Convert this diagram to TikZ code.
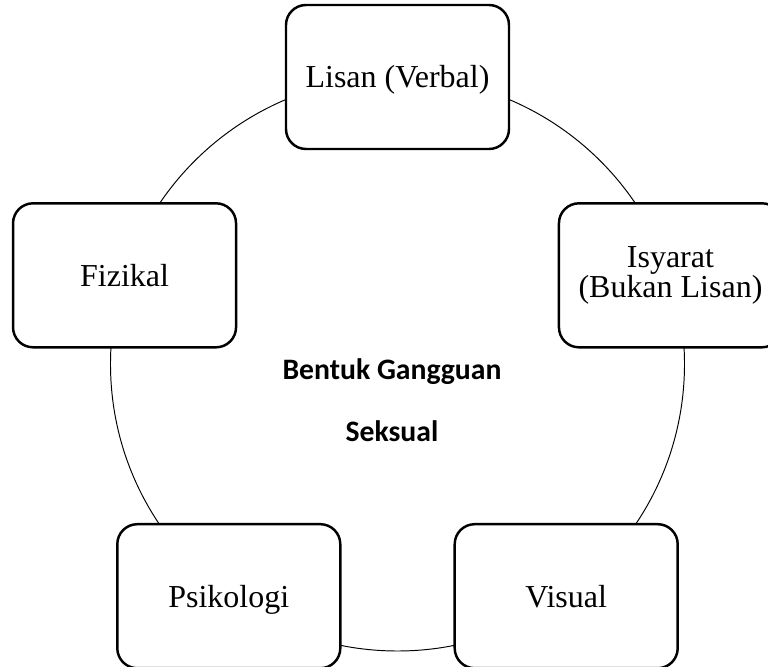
\documentclass[tikz,border=0pt]{standalone}
\usepackage{fontspec}
\setmainfont{Liberation Serif}
\newfontfamily\judulfont{Carlito}
\usetikzlibrary{positioning}

\begin{document}
\begin{tikzpicture}[
  kotak/.style={rectangle, rounded corners=0.4cm, draw, line width=1.4pt, fill=white,
    minimum width=4.46cm, minimum height=2.88cm, align=center,
    font=\fontsize{18.2}{17.2}\selectfont},
  satubaris/.style={kotak, text height=0.6cm, text depth=0.16cm},
  judul/.style={font=\judulfont\bfseries\fontsize{16.9}{20}\selectfont}
]
\useasboundingbox (-7.95,-6.06) rectangle (7.41,7.28);

\node[circle, draw, line width=0.55pt, minimum size=11.48cm, inner sep=0pt] (bulatan) at (0,0) {};

\node[satubaris] (lisan) at (90:5.74) {Lisan (Verbal)};
\node[kotak] (isyarat) at (18:5.74) {Isyarat\\(Bukan Lisan)};
\node[satubaris] (visual) at (-54:5.74) {Visual};
\node[satubaris] (psikologi) at (234:5.74) {Psikologi};
\node[satubaris] (fizikal) at (162:5.74) {Fizikal};

\node[judul, anchor=base] (bentuk) at (-0.11,-0.32) {Bentuk Gangguan};
\node[judul, below=1.22cm of bentuk.base, anchor=base] (seksual) {Seksual};
\end{tikzpicture}
\end{document}
